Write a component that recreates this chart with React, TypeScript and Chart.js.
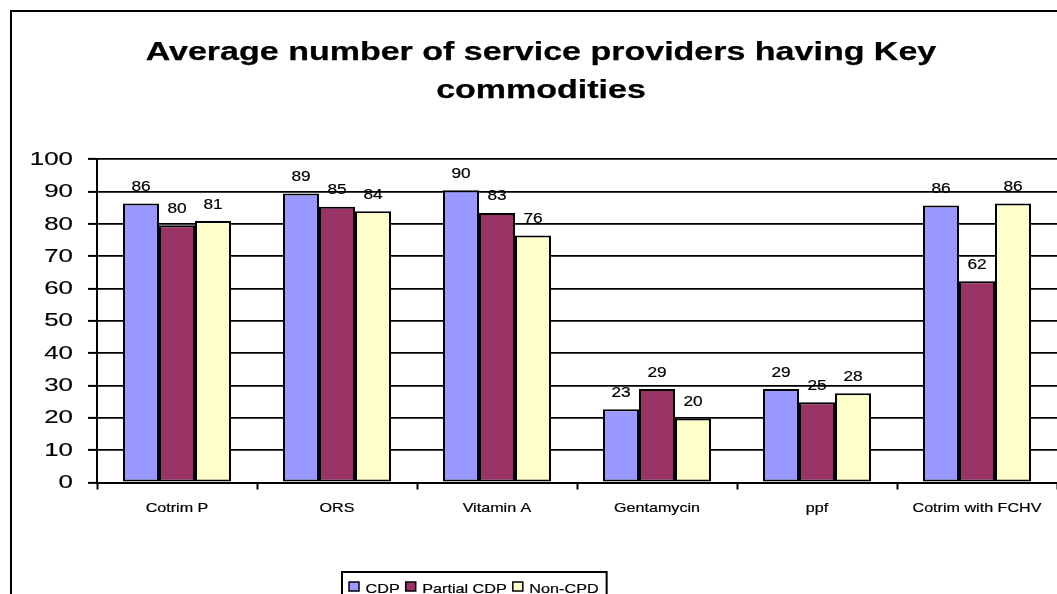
import React, { useEffect, useRef } from "react";
import { Chart, registerables } from "chart.js";

Chart.register(...registerables);

const categories = ["Cotrim P", "ORS", "Vitamin A", "Gentamycin", "ppf", "Cotrim with FCHV"];
const cdp = [86.3, 89.4, 90.4, 22.7, 28.9, 85.7];
const partialCdp = [79.6, 85.3, 83.4, 28.9, 24.8, 62.3];
const nonCpd = [80.9, 83.9, 76.4, 19.8, 27.6, 86.3];
const seriesLabels = ["CDP", "Partial CDP", "Non-CPD"];
const seriesColors = ["#9999FF", "#993366", "#FFFFCC"];
const yMin = 0;
const yMax = 100;
const yStep = 10;
const titleLines = ["Average number of service providers having Key", "commodities"];

const FONT = "'Liberation Sans', Arial, Helvetica, sans-serif";

function stretchText(
  ctx: CanvasRenderingContext2D,
  text: string,
  x: number,
  y: number,
  sx: number,
  align: CanvasTextAlign,
  baseline: CanvasTextBaseline = "alphabetic",
  thicken = 0
) {
  ctx.save();
  ctx.translate(x, y);
  ctx.scale(sx, 1);
  ctx.textAlign = align;
  ctx.textBaseline = baseline;
  ctx.fillText(text, 0, 0);
  if (thicken > 0) {
    ctx.lineWidth = thicken;
    ctx.strokeStyle = ctx.fillStyle as string;
    ctx.strokeText(text, 0, 0);
  }
  ctx.restore();
}

const decorPlugin = {
  id: "decor",
  beforeDraw(chart: any) {
    const ctx = chart.ctx as CanvasRenderingContext2D;
    ctx.save();
    ctx.fillStyle = "#ffffff";
    ctx.fillRect(0, 0, chart.width, chart.height);
    ctx.restore();
  },
  afterDraw(chart: any) {
    const ctx = chart.ctx as CanvasRenderingContext2D;
    ctx.save();
    ctx.fillStyle = "#000";

    // outer frame
    ctx.strokeStyle = "#000";
    ctx.lineWidth = 2;
    ctx.strokeRect(11, 11, chart.width + 50, chart.height + 50);

    // title
    ctx.font = `bold 25px ${FONT}`;
    stretchText(ctx, titleLines[0], 541, 59.5, 1.36, "center", "alphabetic", 0.25);
    stretchText(ctx, titleLines[1], 541, 97.5, 1.36, "center", "alphabetic", 0.25);

    // y tick labels
    const ys = chart.scales.y;
    ctx.font = `18.5px ${FONT}`;
    ys.ticks.forEach((t: any) => {
      const py = ys.getPixelForValue(t.value);
      stretchText(ctx, String(t.value), 73, py + 0.5, 1.4, "right", "middle", 0.15);
    });

    // x tick labels
    const xs = chart.scales.x;
    ctx.font = `13px ${FONT}`;
    categories.forEach((c, i) => {
      const px = xs.getPixelForValue(i);
      stretchText(ctx, c, px, 508, 1.24, "center", "middle", 0.2);
    });

    // data labels
    ctx.font = `15px ${FONT}`;
    chart.data.datasets.forEach((ds: any, di: number) => {
      const meta = chart.getDatasetMeta(di);
      meta.data.forEach((bar: any, i: number) => {
        const v = ds.data[i] as number;
        stretchText(ctx, String(Math.round(v)), bar.x, bar.y - 12.5, 1.15, "center", "alphabetic", 0.2);
      });
    });

    // legend
    ctx.font = `13.5px ${FONT}`;
    const sx = 1.2;
    let x = 349;
    const boxLeft = 342;
    chart.data.datasets.forEach((ds: any) => {
      ctx.fillStyle = ds.backgroundColor;
      ctx.fillRect(x, 582, 10, 9);
      ctx.strokeStyle = "#000";
      ctx.lineWidth = 1.5;
      ctx.strokeRect(x, 582, 10, 9);
      x += 10 + 6.5;
      ctx.fillStyle = "#000";
      stretchText(ctx, ds.label, x, 592.6, sx, "left", "alphabetic", 0.2);
      x += ctx.measureText(ds.label).width * sx + 6;
    });
    ctx.strokeStyle = "#000";
    ctx.lineWidth = 2;
    ctx.strokeRect(boxLeft, 572, x + 2 - boxLeft, 40);

    ctx.restore();
  },
};

export default function App() {
  const ref = useRef<HTMLCanvasElement | null>(null);

  useEffect(() => {
    document.body.style.margin = "0";
    if (!ref.current) return;
    const seriesData = [cdp, partialCdp, nonCpd];
    const chart = new Chart(ref.current, {
      type: "bar",
      data: {
        labels: categories,
        datasets: seriesData.map((d, i) => ({
          label: seriesLabels[i],
          data: d,
          backgroundColor: seriesColors[i],
          borderColor: "#000",
          borderWidth: 2,
          borderSkipped: false,
          categoryPercentage: 0.675,
          barPercentage: 1.0,
        })),
      },
      options: {
        responsive: false,
        animation: false,
        events: [],
        layout: { padding: { top: 159.3, left: 0, right: 0, bottom: 0 } },
        plugins: {
          legend: { display: false },
          title: { display: false },
          tooltip: { enabled: false },
        },
        scales: {
          x: {
            offset: true,
            grid: {
              display: true,
              offset: true,
              drawOnChartArea: false,
              drawTicks: true,
              tickLength: 7,
              tickWidth: 2,
              tickColor: "#000",
              color: "#000",
            },
            border: { display: true, color: "#000", width: 2 },
            ticks: { display: false },
            afterFit: (s: any) => {
              s.height = 594 - 482.5;
            },
          },
          y: {
            min: yMin,
            max: yMax,
            ticks: { display: false, stepSize: yStep },
            grid: {
              color: "#000",
              lineWidth: 1.8,
              drawTicks: true,
              tickLength: 9,
              tickWidth: 2,
              tickColor: "#000",
            },
            border: { display: true, color: "#000", width: 2 },
            afterFit: (s: any) => {
              s.width = 97;
            },
          },
        },
      },
      plugins: [decorPlugin],
    });
    return () => chart.destroy();
  }, []);

  return <canvas ref={ref} width={1057} height={594} style={{ display: "block" }} />;
}
